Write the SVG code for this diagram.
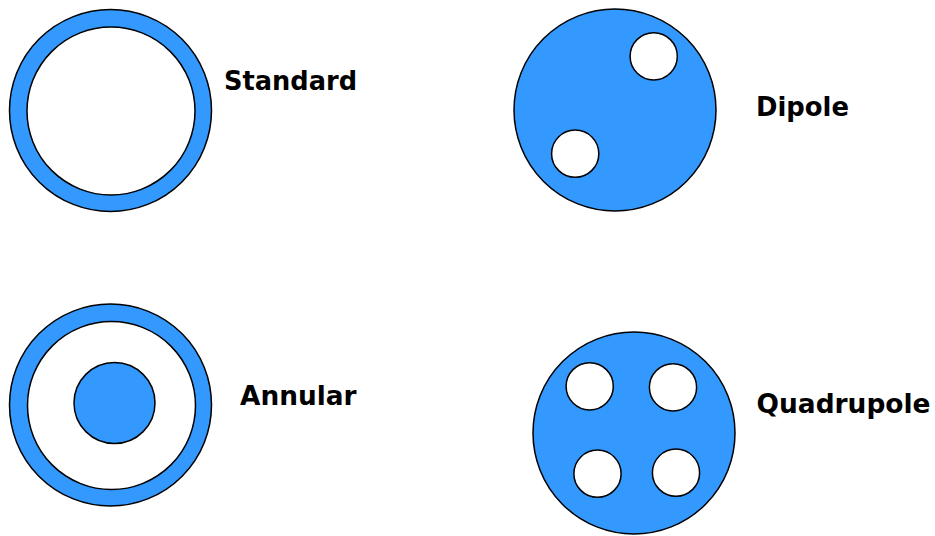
<svg xmlns="http://www.w3.org/2000/svg" width="935" height="536" viewBox="0 0 935 536">
<style>
.b{fill:#3399FF;stroke:#000;stroke-width:1.5}
.w{fill:#fff;stroke:#000;stroke-width:1.5}
.t{font-family:"DejaVu Sans","Verdana",sans-serif;font-weight:bold;font-size:26px;fill:#000}
</style>
<rect width="935" height="536" fill="#fff"/>
<g id="standard">
<circle class="b" cx="110.5" cy="110.5" r="101"/>
<circle class="w" cx="111" cy="111" r="84"/>
<text class="t" x="224" y="89.5" textLength="133" lengthAdjust="spacingAndGlyphs">Standard</text>
</g>
<g id="dipole">
<circle class="b" cx="615" cy="110" r="101"/>
<circle class="w" cx="653.7" cy="56.3" r="23.6"/>
<circle class="w" cx="575.2" cy="153.7" r="23.6"/>
<text class="t" x="756" y="116" textLength="93" lengthAdjust="spacingAndGlyphs">Dipole</text>
</g>
<g id="annular">
<circle class="b" cx="110.5" cy="405" r="101"/>
<circle class="w" cx="111.5" cy="405.5" r="84"/>
<circle class="b" cx="114.5" cy="403" r="40.5"/>
<text class="t" x="240" y="405" textLength="116.5" lengthAdjust="spacingAndGlyphs">Annular</text>
</g>
<g id="quadrupole">
<circle class="b" cx="634" cy="433" r="101"/>
<circle class="w" cx="589.7" cy="386.3" r="23.6"/>
<circle class="w" cx="673" cy="387.3" r="23.6"/>
<circle class="w" cx="597.5" cy="473.7" r="23.6"/>
<circle class="w" cx="676" cy="472.7" r="23.6"/>
<text class="t" x="756.5" y="413.3" textLength="174" lengthAdjust="spacingAndGlyphs">Quadrupole</text>
</g>
<g id="connectors"/>
</svg>
